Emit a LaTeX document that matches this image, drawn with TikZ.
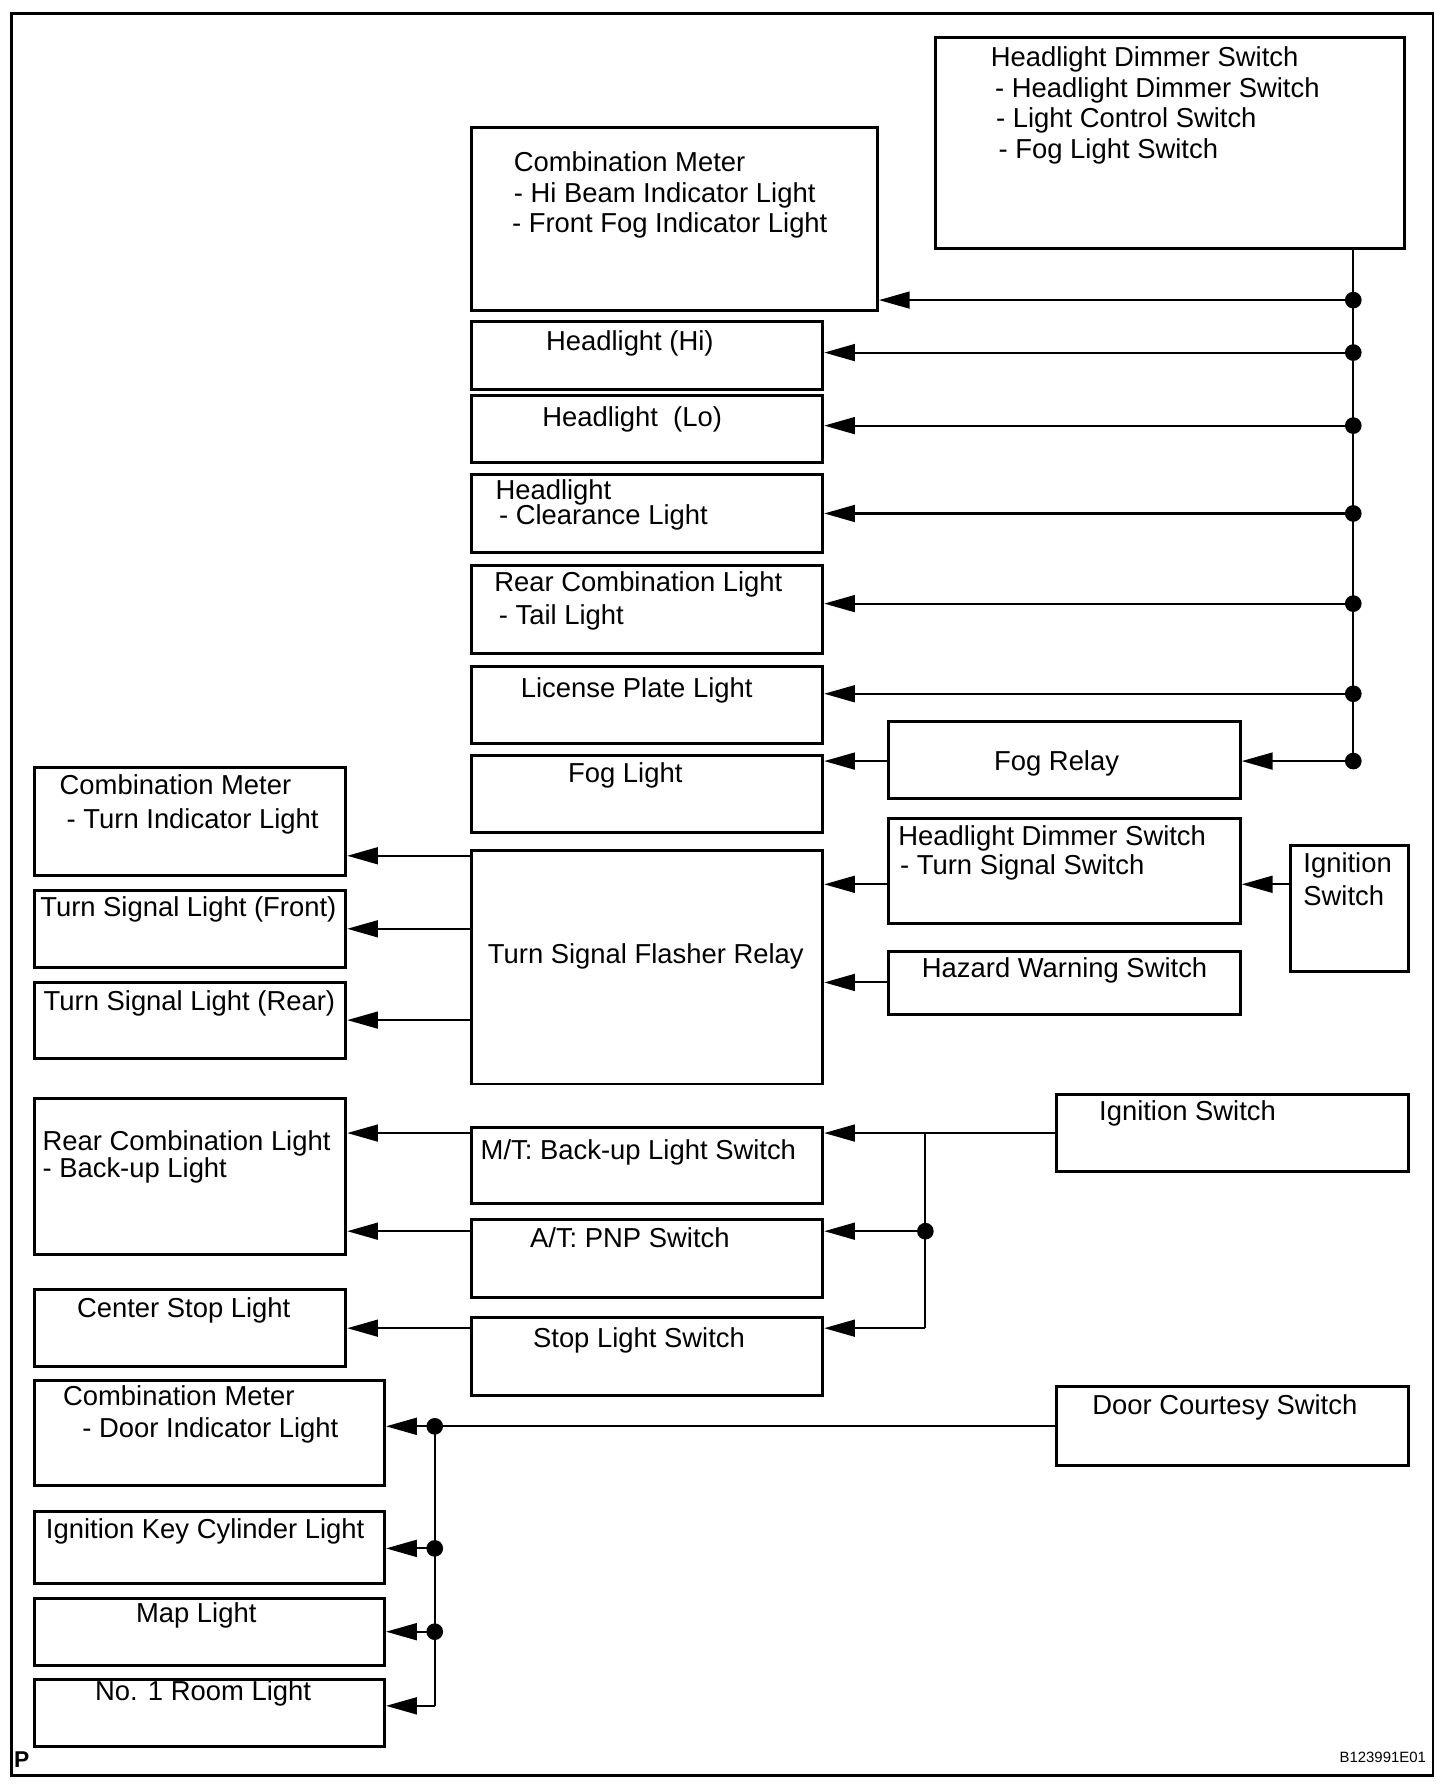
\documentclass[tikz,border=0pt]{standalone}
\usepackage{fontspec}
\setmainfont{Liberation Sans}
\usetikzlibrary{arrows.meta,fit}

\begin{document}
\begin{tikzpicture}[x=0.02282cm,y=-0.02282cm,
    box/.style={draw,line width=1.7pt,inner sep=0pt},
    lbl/.style={anchor=base west,inner sep=0pt,align=left,font=\fontsize{15.6}{17.5}\selectfont},
    clbl/.style={lbl,anchor=base},
    wire/.style={line width=1.2pt},
    arr/.style={wire,-{Triangle[length=17.5pt,width=9.6pt]}},
    dot/.style={circle,fill,inner sep=0pt,minimum size=9.5pt}]
        \useasboundingbox (0,0) rectangle (1276,1567);
        \draw[line width=1.4pt] (10,12) rectangle (1256,1556);

        % right column, switches (multi-line labels sit on their last baseline)
        \node[box,fit={(820,33) (1231,218)}] (hds) {};
        \node[lbl] (hdsT) at (868,139) {Headlight Dimmer Switch\\\hspace{2.5pt}- Headlight Dimmer Switch\\\hspace{3pt}- Light Control Switch\\\hspace{4.5pt}- Fog Light Switch};
        \node[box,fit={(779,632) (1087,700)}] (fgr) {};
        \node[clbl] (fgrT) at (926,675) {Fog Relay};
        \node[box,fit={(779,717) (1087,809)}] (hdt) {};
        \node[lbl] (hdtT) at (787,766) {Headlight Dimmer Switch\\[-1pt]\hspace{1pt}- Turn Signal Switch};
        \node[box,fit={(1131,741) (1234,851)}] (igs) {};
        \node[lbl] (igsT) at (1142,794) {Ignition\\[1.3pt]Switch};
        \node[box,fit={(779,834) (1087,889)}] (hzw) {};
        \node[clbl] (hzwT) at (933,857) {Hazard Warning Switch};
        \node[box,fit={(926,959) (1234,1027)}] (igb) {};
        \node[lbl] (igbT) at (963,982) {Ignition Switch};
        \node[box,fit={(926,1215) (1234,1284)}] (dcs) {};
        \node[lbl] (dcsT) at (957,1240) {Door Courtesy Switch};

        % middle column
        \node[box,fit={(413,112) (769,272)}] (cmhi) {};
        \node[lbl] (cmhiT) at (450,204) {Combination Meter\\- Hi Beam Indicator Light\\\hspace{-1pt}- Front Fog Indicator Light};
        \node[box,fit={(413,282) (721,341)}] (hhi) {};
        \node[clbl] (hhiT) at (552,307) {Headlight (Hi)};
        \node[box,fit={(413,347) (721,405)}] (hlo) {};
        \node[clbl] (hloT) at (554,374) {Headlight\ \ (Lo)};
        \node[box,fit={(413,416) (721,484)}] (hcl) {};
        \node[lbl] (hclT) at (434,460) {Headlight\\[-3pt]\hspace{2pt}- Clearance Light};
        \node[box,fit={(413,496) (721,573)}] (rtl) {};
        \node[lbl] (rtlT) at (433,547) {Rear Combination Light\\[1.3pt]\hspace{2.5pt}- Tail Light};
        \node[box,fit={(413,584) (721,652)}] (lpl) {};
        \node[clbl] (lplT) at (558,611) {License Plate Light};
        \node[box,fit={(413,662) (721,730)}] (fgl) {};
        \node[clbl] (fglT) at (548,686) {Fog Light};
        \node[box,fit={(413,745) (721,950)}] (tfr) {};
        \node[clbl] (tfrT) at (566,844) {Turn Signal Flasher Relay};
        \node[box,fit={(413,988) (721,1055)}] (mts) {};
        \node[lbl] (mtsT) at (421,1016) {M/T: Back-up Light Switch};
        \node[box,fit={(413,1069) (721,1137)}] (ats) {};
        \node[clbl] (atsT) at (552,1093) {A/T: PNP Switch};
        \node[box,fit={(413,1155) (721,1223)}] (sls) {};
        \node[clbl] (slsT) at (560,1181) {Stop Light Switch};

        % left column, lights
        \node[box,fit={(30,673) (303,767)}] (cmt) {};
        \node[lbl] (cmtT) at (52,726) {Combination Meter\\[2pt]\hspace{4pt}- Turn Indicator Light};
        \node[box,fit={(30,780) (303,848)}] (tsf) {};
        \node[lbl] (tsfT) at (35,803) {Turn Signal Light (Front)};
        \node[box,fit={(30,861) (303,928)}] (tsr) {};
        \node[lbl] (tsrT) at (38,886) {Turn Signal Light (Rear)};
        \node[box,fit={(30,963) (303,1099)}] (rcb) {};
        \node[lbl] (rcbT) at (37,1032) {Rear Combination Light\\[-2pt]- Back-up Light};
        \node[box,fit={(30,1130) (303,1198)}] (csl) {};
        \node[clbl] (cslT) at (161,1155) {Center Stop Light};
        \node[box,fit={(30,1210) (337,1302)}] (cmd) {};
        \node[lbl] (cmdT) at (55,1260) {Combination Meter\\[0.6pt]\hspace{11pt}- Door Indicator Light};
        \node[box,fit={(30,1325) (337,1388)}] (ikc) {};
        \node[lbl] (ikcT) at (40,1348) {Ignition Key Cylinder Light};
        \node[box,fit={(30,1401) (337,1460)}] (mpl) {};
        \node[clbl] (mplT) at (172,1422) {Map Light};
        \node[box,fit={(30,1472) (337,1531)}] (rml) {};
        \node[clbl] (rmlT) at (178,1490) {No. 1 Room Light};

        \node[lbl,font=\fontsize{13}{15}\bfseries] (pmark) at (12,1549) {P};
        \node[lbl,anchor=base east,font=\fontsize{8.5}{10}\selectfont] (code) at (1250,1545) {B123991E01};

        % junctions
        \node[dot] (d1) at (1186,263) {};
        \node[dot] (d2) at (1186,309) {};
        \node[dot] (d3) at (1186,373) {};
        \node[dot] (d4) at (1186,450) {};
        \node[dot] (d5) at (1186,529) {};
        \node[dot] (d6) at (1186,608) {};
        \node[dot] (d7) at (1186,667) {};
        \node[dot] (dm) at (811,1079) {};
        \node[dot] (dd1) at (381,1250) {};
        \node[dot] (dd2) at (381,1357) {};
        \node[dot] (dd3) at (381,1430) {};
        \coordinate (jt) at (811,993);
        \coordinate (jb) at (811,1164);
        \coordinate (jr) at (381,1495);
        \coordinate (yts) at (0,775);
        \coordinate (yhz) at (0,861);
        \coordinate (ycm) at (0,750);
        \coordinate (yfr) at (0,814);
        \coordinate (yrr) at (0,894);

        % headlight bus
        \draw[wire] (d1 |- hds.south) -- (d7.center);
        \foreach \d/\b in {d1/cmhi,d2/hhi,d3/hlo,d4/hcl,d5/rtl,d6/lpl,d7/fgr}
            \draw[arr] (\d.center) -- (\b.east |- \d);
        \draw[arr] (fgr.west |- d7) -- (fgl.east |- d7);

        % turn signal
        \draw[arr] (igs.west |- yts) -- (hdt.east |- yts);
        \draw[arr] (hdt.west |- yts) -- (tfr.east |- yts);
        \draw[arr] (hzw.west |- yhz) -- (tfr.east |- yhz);
        \draw[arr] (tfr.west |- ycm) -- (cmt.east |- ycm);
        \draw[arr] (tfr.west |- yfr) -- (tsf.east |- yfr);
        \draw[arr] (tfr.west |- yrr) -- (tsr.east |- yrr);

        % back-up and stop
        \draw[arr] (igb.west |- jt) -- (mts.east |- jt);
        \draw[wire] (jt) -- (jb);
        \draw[arr] (dm.center) -- (ats.east |- dm);
        \draw[arr] (jb) -- (sls.east |- jb);
        \draw[arr] (mts.west |- jt) -- (rcb.east |- jt);
        \draw[arr] (ats.west |- dm) -- (rcb.east |- dm);
        \draw[arr] (sls.west |- jb) -- (csl.east |- jb);

        % door
        \draw[arr] (dcs.west |- dd1) -- (cmd.east |- dd1);
        \draw[wire] (dd1.center) -- (jr);
        \draw[arr] (dd2.center) -- (ikc.east |- dd2);
        \draw[arr] (dd3.center) -- (mpl.east |- dd3);
        \draw[arr] (jr) -- (rml.east |- jr);
\end{tikzpicture}
\end{document}
